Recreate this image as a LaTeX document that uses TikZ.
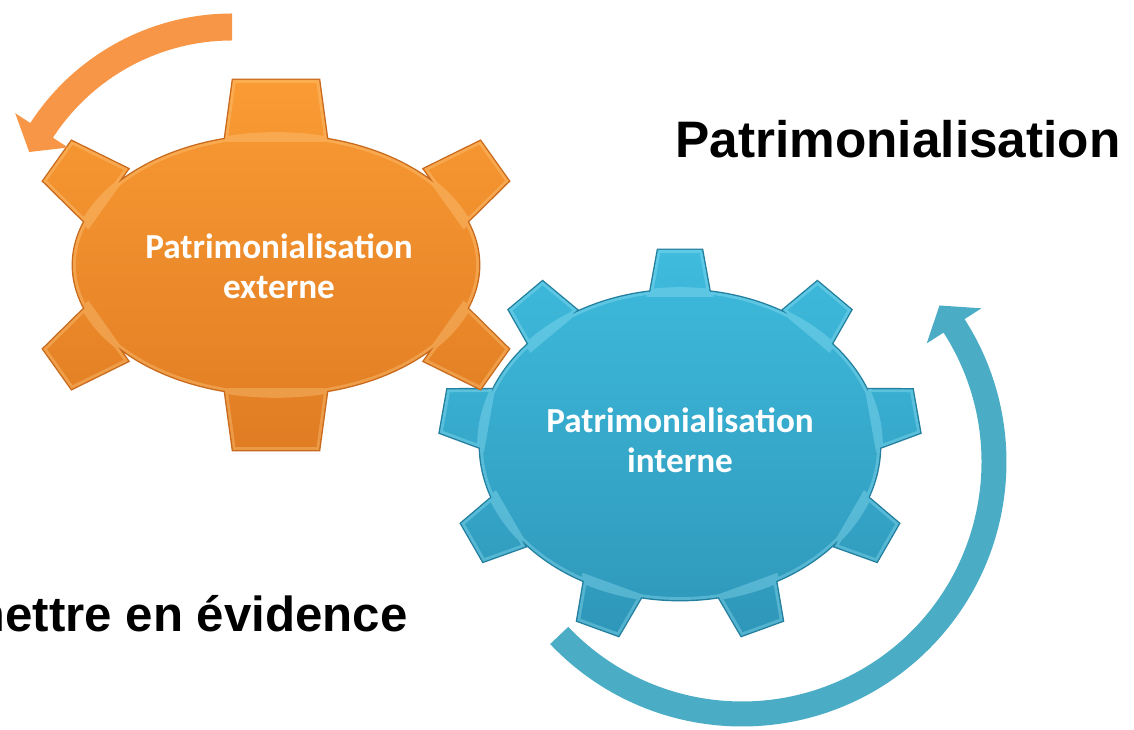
\documentclass[tikz,border=0pt]{standalone}
\usepackage{fontspec}
\setmainfont{Liberation Sans}
\newfontfamily\gearfont{Carlito}
\definecolor{ORANGE_A}{HTML}{F79646}
\definecolor{ORANGE_T}{HTML}{FA9B34}
\definecolor{ORANGE_B}{HTML}{E07C23}
\definecolor{ORANGE_E}{HTML}{C9691B}
\definecolor{ORANGE_L}{HTML}{FFD08A}
\definecolor{TEAL_A}{HTML}{4BACC6}
\definecolor{TEAL_T}{HTML}{3EBBDD}
\definecolor{TEAL_B}{HTML}{2F97B9}
\definecolor{TEAL_E}{HTML}{227F9E}
\definecolor{TEAL_L}{HTML}{9BE6F8}
% tooth: base point, direction, length, base half width, tip half width
\newcommand\tooth[5]{([shift={#1},rotate=#2]0,-#4) -- ([shift={#1},rotate=#2]#3,-#5)
  -- ([shift={#1},rotate=#2]#3,#5) -- ([shift={#1},rotate=#2]0,#4) -- cycle}
\newcommand\orangegear{(0,0) ellipse[x radius=203, y radius=130]
  \foreach \tx/\ty/\d in {-168/68/144.6, 168/68/35.4, -168/-68/215.4, 168/-68/-35.4}
    {\tooth{(\tx,\ty)}{\d}{62}{34.5}{24.5}}
  \tooth{(0,126)}{90}{59}{51}{43} \tooth{(0,-126)}{-90}{59}{51}{43}}
\newcommand\bluegear{(0,0) ellipse[x radius=200, y radius=155]
  \foreach \a in {10,50,...,330} {\tooth{(\a:196 and 151)}{\a}{44}{30}{22}}}
\tikzset{
	gear text/.style = {text=white, align=center, font=\gearfont\bfseries\fontsize{25}{28.5}\selectfont},
	big label/.style = {font=\bfseries\fontsize{#1}{44}\selectfont, inner sep=0pt}
}
\begin{document}
\begin{tikzpicture}[x=0.025cm, y=0.025cm]
		\useasboundingbox (0,0) rectangle (1134,730);
		\clip (0,0) rectangle (1134,730);
		% blue arrow
		\scope[shift={(742,268)}]
		\fill[TEAL_A] (223.5:264.5) arc[start angle=223.5, end angle=392.7, radius=264.5]
		      -- (392.7:284.5) -- (398.4:252) -- (392.7:219.5) -- (392.7:239.5)
		      arc[start angle=392.7, end angle=223.5, radius=239.5] -- cycle;
		\endscope
		% blue gear
		\scope[shift={(680,285)}]
		\draw[TEAL_E, line width=2pt] \bluegear;
		\shade[top color=TEAL_T, bottom color=TEAL_B] \bluegear;
		\begin{scope}
		\clip \bluegear;
		\draw[TEAL_L, line width=4pt, opacity=.35] \bluegear;
		\end{scope}
		\endscope
		% orange gear
		\scope[shift={(276,465)}]
		\draw[ORANGE_E, line width=2pt] \orangegear;
		\shade[top color=ORANGE_T, bottom color=ORANGE_B] \orangegear;
		\begin{scope}
		\clip \orangegear;
		\draw[ORANGE_L, line width=4pt, opacity=.35] \orangegear;
		\end{scope}
		\endscope
		% orange arrow
		\scope[shift={(232,476)}]
		\fill[ORANGE_A] (90:240.5) arc[start angle=90, end angle=147, radius=240.5]
		      -- (147:258.5) -- (153.3:227) -- (147:195.5) -- (147:213.5)
		      arc[start angle=147, end angle=90, radius=213.5] -- cycle;
		\endscope
		% texts
		\node[gear text] (ext) at (279,464) {Patrimonialisation\\externe};
		\node[gear text] (int) at (680,290) {Patrimonialisation\\interne};
		\node[big label=36.5, anchor=base] (patri) at (898,572) {Patrimonialisation};
		\node[big label=35, anchor=base east] (evid) at (408,98) {mettre en évidence};
	\end{tikzpicture}
\end{document}
